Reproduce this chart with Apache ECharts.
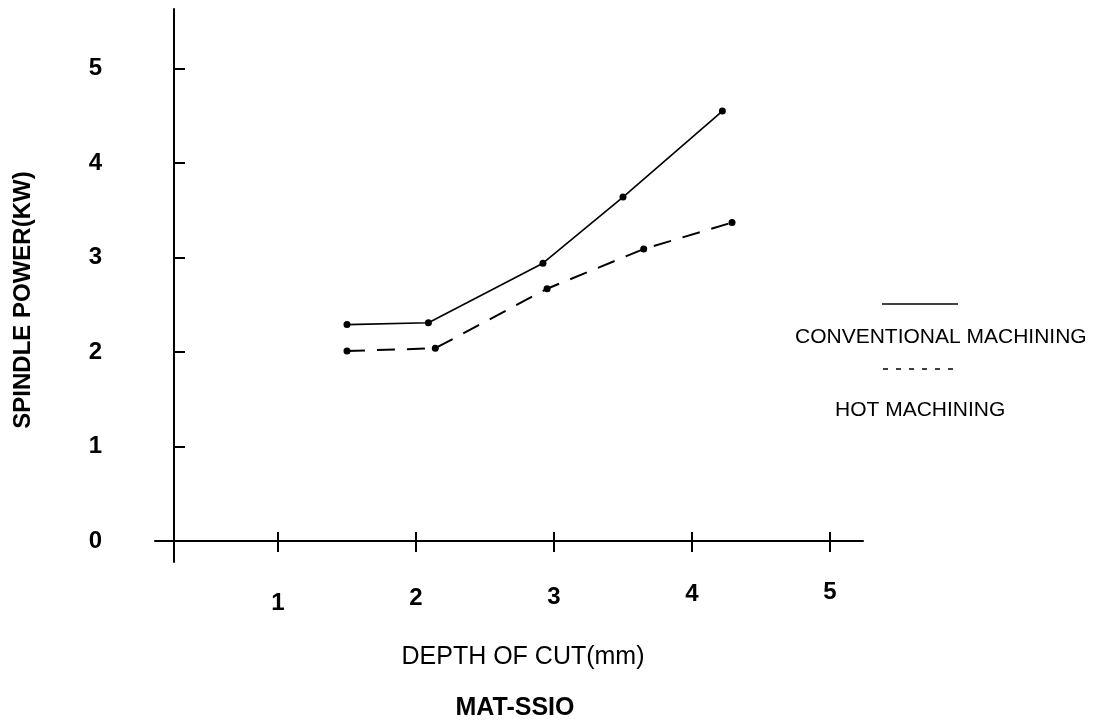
<!DOCTYPE html>
<html>
<head>
<meta charset="utf-8">
<title>Spindle power vs depth of cut</title>
<script src="https://cdn.jsdelivr.net/npm/echarts@6.0.0/dist/echarts.min.js"></script>
<style>
  html, body { margin: 0; padding: 0; background: #fff; }
  #chart { width: 1102px; height: 722px; }
</style>
</head>
<body>
<div id="chart"></div>
<script>
// values
const depthConv = [1.50, 2.09, 2.92, 3.50, 4.22]
const powerConv = [2.29, 2.31, 2.94, 3.64, 4.55]
const depthHot = [1.50, 2.14, 2.95, 3.65, 4.29]
const powerHot = [2.01, 2.04, 2.67, 3.09, 3.37]

const xTicks = [1, 2, 3, 4, 5]
const yTicks = [0, 1, 2, 3, 4, 5]

const seriesNames = ['CONVENTIONAL MACHINING', 'HOT MACHINING']

const toPairs = (xs, ys) => xs.map((x, i) => [x, ys[i]])

const chart = echarts.init(document.getElementById('chart'))

const font = 'Liberation Sans, Arial, sans-serif'
const black = '#000'

// small stagger of the x tick labels, as in the scan
const xLabelRich = {
  t1: { padding: [11, 0, 0, 0] },
  t2: { padding: [6, 0, 0, 0] },
  t3: { padding: [5, 0, 0, 0] },
  t4: { padding: [2, 0, 0, 0] },
  t5: { padding: [0, 0, 0, 0] }
}
Object.values(xLabelRich).forEach(r => {
  r.fontSize = 24
  r.fontWeight = 'bold'
  r.fontFamily = font
  r.color = black
})

const xAxisBase = {
  type: 'value',
  min: 0.109,
  max: 5.239,
  position: 'bottom',
  offset: -21,
  splitLine: { show: false }
}

const option = {
  animation: false,
  backgroundColor: '#fff',
  grid: {
    left: 155,
    right: 239,
    top: 9,
    bottom: 160,
    outerBoundsMode: 'none',
    containLabel: false
  },
  xAxis: [
    {
      ...xAxisBase,
      axisLine: { show: true, onZero: false, lineStyle: { color: black, width: 2 } },
      axisTick: { show: true, customValues: xTicks, length: 11, lineStyle: { color: black, width: 2 } },
      axisLabel: {
        show: true,
        customValues: xTicks,
        margin: 39,
        formatter: v => `{t${v}|${v}}`,
        rich: xLabelRich
      }
    },
    {
      // upper half of the crossing tick marks
      ...xAxisBase,
      axisLine: { show: false, onZero: false },
      axisTick: { show: true, inside: true, customValues: xTicks, length: 9, lineStyle: { color: black, width: 2 } },
      axisLabel: { show: false }
    }
  ],
  yAxis: {
    type: 'value',
    min: -0.222,
    max: 5.63,
    position: 'left',
    offset: -19,
    splitLine: { show: false },
    axisLine: { show: true, onZero: false, lineStyle: { color: black, width: 2 } },
    axisTick: { show: true, inside: true, customValues: yTicks, length: 11, lineStyle: { color: black, width: 2 } },
    axisLabel: {
      show: true,
      customValues: yTicks,
      margin: 72,
      color: black,
      fontSize: 24,
      fontWeight: 'bold',
      fontFamily: font
    }
  },
  series: [
    {
      name: seriesNames[0],
      type: 'line',
      data: toPairs(depthConv, powerConv),
      symbol: 'circle',
      symbolSize: 7,
      itemStyle: { color: black },
      lineStyle: { color: black, width: 1.6, type: 'solid' }
    },
    {
      name: seriesNames[1],
      type: 'line',
      data: toPairs(depthHot, powerHot),
      symbol: 'circle',
      symbolSize: 7,
      itemStyle: { color: black },
      lineStyle: { color: black, width: 2, type: [18, 12] }
    }
  ],
  graphic: [
    {
      type: 'text',
      x: 23,
      y: 300,
      rotation: Math.PI / 2,
      style: {
        text: 'SPINDLE POWER(KW)',
        fill: black,
        font: `bold 24px ${font}`,
        align: 'center',
        verticalAlign: 'middle'
      }
    },
    {
      type: 'text',
      x: 523,
      y: 657,
      style: {
        text: 'DEPTH OF CUT(mm)',
        fill: black,
        font: `25px ${font}`,
        align: 'center',
        verticalAlign: 'middle'
      }
    },
    {
      type: 'text',
      x: 515,
      y: 708,
      style: {
        text: 'MAT-SSIO',
        fill: black,
        font: `bold 25px ${font}`,
        align: 'center',
        verticalAlign: 'middle'
      }
    },
    // legend: line sample above its label
    {
      type: 'line',
      shape: { x1: 882, y1: 304, x2: 958, y2: 304 },
      style: { stroke: black, lineWidth: 1.6 }
    },
    {
      type: 'text',
      x: 795,
      y: 337,
      style: {
        text: seriesNames[0],
        fill: black,
        font: `21px ${font}`,
        align: 'left',
        verticalAlign: 'middle'
      }
    },
    {
      type: 'line',
      shape: { x1: 883, y1: 369, x2: 955, y2: 369 },
      style: { stroke: black, lineWidth: 1.6, lineDash: [5, 8] }
    },
    {
      type: 'text',
      x: 835,
      y: 410,
      style: {
        text: seriesNames[1],
        fill: black,
        font: `21px ${font}`,
        align: 'left',
        verticalAlign: 'middle'
      }
    }
  ]
}

chart.setOption(option)
window.addEventListener('resize', () => chart.resize())
</script>
</body>
</html>
